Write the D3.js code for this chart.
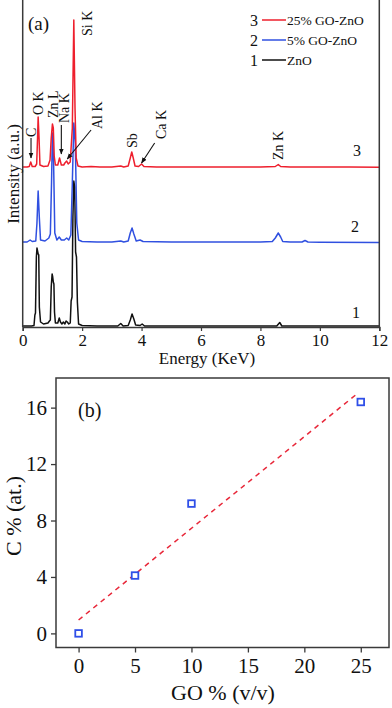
<!DOCTYPE html>
<html><head><meta charset="utf-8">
<script src="https://cdn.jsdelivr.net/npm/d3@7"></script>
<style>
body{margin:0;background:#fff}
svg{display:block}
text{font-family:"Liberation Serif","Times New Roman",serif;fill:#111}
</style>
</head><body>
<svg id="c" width="392" height="708"></svg>
<script>
// ---------------- DATA ----------------
// Panel (a): EDS spectra, [energy keV, intensity a.u. above own baseline]
const spectrumZnO = [[0,1],[0.3,1],[0.38,1.5],[0.41,12],[0.43,14],[0.46,70],[0.48,79],[0.5,76],[0.52,73],[0.54,72],[0.56,20],[0.6,5],[0.7,3],[0.85,4],[0.9,6],[0.93,7],[0.96,40],[0.99,53],[1.01,50],[1.03,45],[1.05,43],[1.07,15],[1.1,4],[1.18,4],[1.23,9],[1.27,5],[1.32,3],[1.37,5],[1.42,3],[1.46,6],[1.5,5],[1.55,3],[1.6,4],[1.63,26],[1.66,30],[1.69,110],[1.72,146],[1.75,140],[1.78,75],[1.81,70],[1.84,25],[1.88,3],[2.0,1.5],[2.5,1],[3.2,1],[3.3,3.5],[3.38,1],[3.55,1.5],[3.62,7],[3.68,13],[3.74,8],[3.8,2],[3.95,1.5],[4.02,3],[4.1,1],[5,1],[6,1],[7,1],[8,1],[8.55,1],[8.65,4.5],[8.72,1],[9,1],[10,1],[12,1]];
const spectrum5GO = [[0,1],[0.15,1],[0.25,3],[0.32,1.5],[0.44,2],[0.48,20],[0.52,52],[0.56,25],[0.6,3],[0.75,2],[0.88,5],[0.93,9],[0.97,60],[1.0,110],[1.04,80],[1.08,10],[1.15,3],[1.23,6],[1.3,3],[1.4,3],[1.48,5],[1.55,3],[1.62,8],[1.67,60],[1.72,120],[1.77,100],[1.82,20],[1.88,3],[2.0,1.5],[2.5,1],[3.0,1],[3.3,2],[3.4,1],[3.55,2],[3.62,10],[3.68,15],[3.74,9],[3.82,2],[3.95,3],[4.05,1.5],[5,1],[6,1],[7,1],[8,1],[8.4,1.5],[8.5,5],[8.6,10],[8.68,6],[8.75,1.5],[9,1],[9.4,1],[9.5,2.5],[9.6,1],[10,0.8],[12,0.5]];
const spectrum25GO = [[0,1],[0.15,1],[0.22,1.5],[0.27,6],[0.32,1.5],[0.42,1.5],[0.47,4],[0.5,30],[0.52,51],[0.55,30],[0.58,3],[0.7,1.5],[0.85,2],[0.92,8],[0.96,30],[1.0,44],[1.03,40],[1.06,12],[1.1,3],[1.18,3],[1.24,10],[1.3,3],[1.38,3],[1.42,5],[1.48,7],[1.53,4],[1.6,6],[1.67,40],[1.72,148],[1.76,60],[1.8,10],[1.86,2],[2.0,1],[2.3,1.5],[2.6,1],[3.0,1],[3.3,2],[3.4,1],[3.55,2],[3.62,10],[3.67,16],[3.72,10],[3.78,2],[3.9,1.5],[4.0,4],[4.08,1.5],[4.5,1],[5.2,1],[6,1],[7,1],[8,1],[8.5,1.5],[8.6,3.5],[8.68,1.5],[9,1],[10,1],[11,1],[12,0.8]];
const seriesOffsets = [0, 84, 159];
const seriesNumbers = ["1", "2", "3"];
const seriesNames = ["ZnO", "5% GO-ZnO", "25% GO-ZnO"];
const energyTicks = [0, 2, 4, 6, 8, 10, 12];
const peakLabels = ["C", "O K", "Zn L", "Na K", "Al K", "Si K", "Sb", "Ca K", "Zn K"];
const peakEnergies = [0.28, 0.53, 1.02, 1.39, 2.51, 2.17, 3.67, 4.66, 8.6];

// Panel (b): carbon content vs GO
const goPercent = [0, 5, 10, 25];
const carbonPercent = [0, 4.1, 9.2, 16.4];
const fitGO = [0, 24.7];
const fitCarbon = [0.95, 17.0];
const goTicks = [0, 5, 10, 15, 20, 25];
const carbonTicks = [0, 4, 8, 12, 16];

// ---------------- STYLE ----------------
const colors = ["#111111", "#3050e0", "#ee1f2d"];
const axisColor = "#3a3a3a";
const svg = d3.select("#c");

svg.append("defs").append("marker")
  .attr("id","ah").attr("viewBox","0 0 10 10").attr("refX",9).attr("refY",5)
  .attr("markerWidth",6).attr("markerHeight",6).attr("orient","auto-start-reverse")
  .attr("markerUnits","userSpaceOnUse")
  .append("path").attr("d","M0,1 L10,5 L0,9 z").attr("fill","#111");

// ---------------- PANEL A ----------------
const A = {left:22.7, right:379.3, top:0, bottom:327};
const xA = d3.scaleLinear().domain([0,12]).range([A.left, A.right]);
const yA = d3.scaleLinear().domain([0,327]).range([A.bottom, A.top]);

const gA = svg.append("g");
const spectra = [spectrumZnO, spectrum5GO, spectrum25GO];
spectra.forEach((pts, i) => {
  const line = d3.line().x(d => xA(d[0])).y(d => yA(d[1] + seriesOffsets[i]));
  gA.append("path").datum(pts).attr("d", line)
    .attr("fill","none").attr("stroke", colors[i]).attr("stroke-width", 1.5)
    .attr("stroke-linejoin","round");
});

// axes
const axA = gA.append("g").attr("transform",`translate(0,${A.bottom})`)
  .call(d3.axisBottom(xA).tickValues(energyTicks).tickSize(4).tickPadding(3).tickFormat(d3.format("d")));
axA.select(".domain").attr("stroke", axisColor).attr("stroke-width",1.5);
axA.selectAll(".tick line").attr("stroke", axisColor).attr("stroke-width",1.2);
axA.selectAll(".tick text").attr("font-size",17).attr("font-family",'"Liberation Serif",serif').attr("fill","#111");
gA.append("line").attr("x1",A.left).attr("x2",A.left).attr("y1",A.top).attr("y2",A.bottom)
  .attr("stroke",axisColor).attr("stroke-width",1.5);
gA.append("line").attr("x1",A.right).attr("x2",A.right).attr("y1",A.top).attr("y2",A.bottom)
  .attr("stroke",axisColor).attr("stroke-width",1.5);

gA.append("text").attr("x",207).attr("y",364).attr("text-anchor","middle").attr("font-size",17).text("Energy (KeV)");
gA.append("text").attr("transform","translate(13,174) rotate(-90)").attr("text-anchor","middle")
  .attr("dy","0.35em").attr("font-size",17).text("Intensity (a.u.)");
gA.append("text").attr("x",28).attr("y",30).attr("font-size",19).text("(a)");

// legend
const legY = [60, 40, 20];
seriesNumbers.forEach((n, i) => {
  const y = legY[i];
  gA.append("text").attr("x",258).attr("y",y).attr("dy","0.35em").attr("text-anchor","end").attr("font-size",16).text(n);
  gA.append("line").attr("x1",262).attr("x2",286).attr("y1",y).attr("y2",y).attr("stroke",colors[i]).attr("stroke-width",1.5);
  gA.append("text").attr("x",287).attr("y",y).attr("dy","0.35em").attr("font-size",13.5).text(seriesNames[i]);
});

// series numbers near right
const numPos = [[352,318],[351,232],[353,156]];
seriesNumbers.forEach((n,i) => {
  gA.append("text").attr("x",numPos[i][0]).attr("y",numPos[i][1]).attr("font-size",16).text(n);
});

// peak labels (rotated)
const labelBottoms = [137, 115, 118, 123, 129, 36, 148, 139, 160];
peakLabels.forEach((t, i) => {
  const x = xA(peakEnergies[i]);
  gA.append("text").attr("transform",`translate(${x},${labelBottoms[i]}) rotate(-90)`)
    .attr("dy","0.35em").attr("font-size",14).text(t);
});
// arrows: [x1E, y1, x2E, y2]
const arrows = [[0.28,138,0.28,158],[1.30,125,1.30,154],[2.30,130,1.50,159],[4.44,143,4.0,163]];
arrows.forEach(a => {
  gA.append("line").attr("x1",xA(a[0])).attr("y1",a[1]).attr("x2",xA(a[2])).attr("y2",a[3])
    .attr("stroke","#111").attr("stroke-width",1.1).attr("marker-end","url(#ah)");
});

// ---------------- PANEL B ----------------
const B = {left:56, right:389, top:378, bottom:647.5};
const xB = d3.scaleLinear().domain([-2, 27.5]).range([B.left, B.right]);
const yB = d3.scaleLinear().domain([-1, 18.1]).range([B.bottom, B.top]);
const gB = svg.append("g");

gB.append("rect").attr("x",B.left).attr("y",B.top).attr("width",B.right-B.left).attr("height",B.bottom-B.top)
  .attr("fill","none").attr("stroke",axisColor).attr("stroke-width",1.5);

const axBx = gB.append("g").attr("transform",`translate(0,${B.bottom})`)
  .call(d3.axisBottom(xB).tickValues(goTicks).tickSize(5).tickPadding(6).tickFormat(d3.format("d")));
const axBy = gB.append("g").attr("transform",`translate(${B.left},0)`)
  .call(d3.axisLeft(yB).tickValues(carbonTicks).tickSize(5).tickPadding(4).tickFormat(d3.format("d")));
[axBx, axBy].forEach(ax => {
  ax.select(".domain").remove();
  ax.selectAll(".tick line").attr("stroke",axisColor).attr("stroke-width",1.3);
  ax.selectAll(".tick text").attr("font-size",21).attr("font-family",'"Liberation Serif",serif').attr("fill","#111");
});

// fit line
gB.append("line").attr("x1",xB(fitGO[0])).attr("y1",yB(fitCarbon[0])).attr("x2",xB(fitGO[1])).attr("y2",yB(fitCarbon[1]))
  .attr("stroke","#e8283a").attr("stroke-width",1.5).attr("stroke-dasharray","5,4.5");

// points
gB.selectAll("rect.pt").data(goPercent).enter().append("rect").attr("class","pt")
  .attr("x",(d)=>xB(d)-3.3).attr("y",(d,i)=>yB(carbonPercent[i])-3.3)
  .attr("width",6.6).attr("height",6.6).attr("fill","#fff").attr("stroke","#2f4fe8").attr("stroke-width",1.8);

gB.append("text").attr("x",78).attr("y",417).attr("font-size",20).text("(b)");
gB.append("text").attr("x",223).attr("y",700).attr("text-anchor","middle").attr("font-size",22).text("GO % (v/v)");
gB.append("text").attr("transform","translate(13,516) rotate(-90)").attr("text-anchor","middle")
  .attr("dy","0.35em").attr("font-size",22).text("C % (at.)");
</script>
</body></html>
